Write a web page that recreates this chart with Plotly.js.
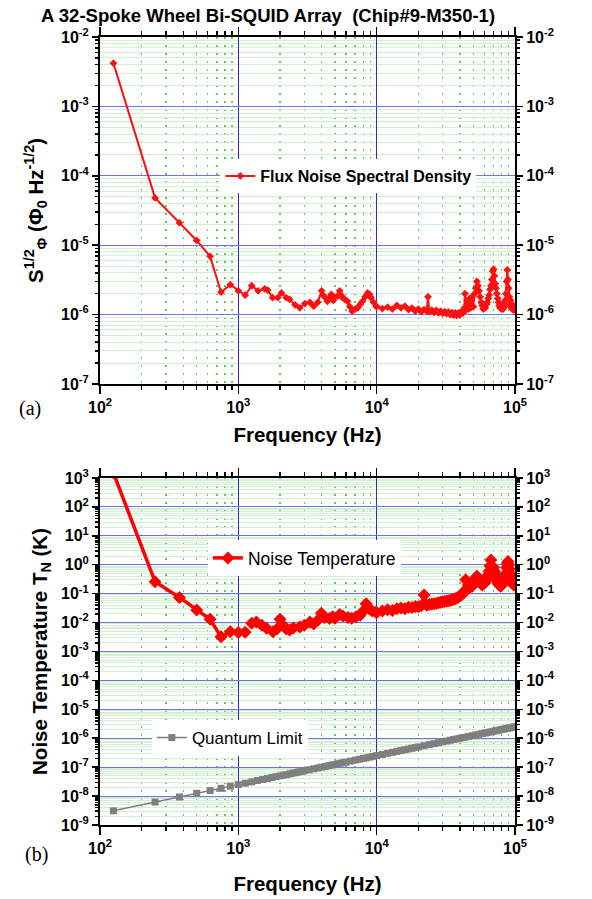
<!DOCTYPE html>
<html><head><meta charset="utf-8">
<script src="https://cdn.plot.ly/plotly-3.0.1.min.js"></script>
<style>body{margin:0;background:#fff}#chart{width:592px;height:899px}</style>
</head><body><div id="chart"></div>
<script>
// ---- Panel (a): flux noise spectral density ----
const fluxFreq = [125,250,375,500,625,750,875,1000,1120,1250,1390,1550,1630,1770,1930,2050,2220,2350,2570,2780,3030,3290,3500,3750,4000,4100,4200,4400,4550,4700,4850,4970,5200,5400,5550,5650,5900,6150,6400,6650,7000,7300,7600,7900,8250,8600,8900,9100,9500,9900,
10000,11000,12000,13000,14000,15000,16000,17000,18000,19000,20000,21000,22000,23000,23500,24000,25000,26000,27000,28000,29000,30000,31000,32000,33000,34000,35000,36000,37000,38000,39000,40000,41000,42000,43000,43500,44000,45000,46000,47000,48000,49000,50000,51000,52000,53000,54000,55000,56000,57000,58000,59000,60000,61000,62000,63000,64000,65000,66000,67000,68000,69000,70000,71000,72000,73000,74000,75000,76000,77000,78000,79000,80000,81000,82000,83000,84000,85000,86000,87000,88000,89000,90000,91000,92000,93000,94000,95000,96000,97000,98000,99000,100000];
const fluxNoise = [4.2e-3,4.8e-5,2.1e-5,1.17e-5,6.9e-6,2.1e-6,2.7e-6,2.2e-6,1.9e-6,2.6e-6,2.2e-6,2.35e-6,2.25e-6,1.75e-6,1.75e-6,2.05e-6,1.75e-6,1.65e-6,1.38e-6,1.25e-6,1.44e-6,1.5e-6,1.32e-6,1.5e-6,2.2e-6,1.9e-6,1.8e-6,1.55e-6,1.75e-6,1.95e-6,1.6e-6,1.75e-6,1.85e-6,2.2e-6,1.9e-6,1.75e-6,1.65e-6,1.55e-6,1.3e-6,1.12e-6,1.2e-6,1.25e-6,1.4e-6,1.55e-6,1.8e-6,2.05e-6,1.95e-6,1.75e-6,1.5e-6,1.32e-6,
1.30e-6,1.22e-6,1.28e-6,1.20e-6,1.35e-6,1.25e-6,1.32e-6,1.18e-6,1.24e-6,1.12e-6,1.20e-6,1.10e-6,1.18e-6,1.12e-6,1.80e-6,1.10e-6,1.16e-6,1.08e-6,1.15e-6,1.06e-6,1.12e-6,1.04e-6,1.10e-6,1.03e-6,1.09e-6,1.00e-6,1.07e-6,0.98e-6,1.06e-6,0.97e-6,1.05e-6,1.00e-6,1.10e-6,1.05e-6,1.25e-6,2.0e-6,1.15e-6,1.6e-6,1.2e-6,1.7e-6,1.25e-6,1.8e-6,1.3e-6,2.0e-6,2.4e-6,3.0e-6,2.6e-6,2.2e-6,1.8e-6,1.5e-6,1.35e-6,1.2e-6,1.3e-6,1.25e-6,1.4e-6,1.5e-6,1.7e-6,1.9e-6,2.3e-6,2.6e-6,3.2e-6,4.2e-6,4.5e-6,3.6e-6,2.8e-6,2.4e-6,2.0e-6,1.7e-6,1.5e-6,1.35e-6,1.25e-6,1.35e-6,1.2e-6,1.3e-6,1.2e-6,1.45e-6,1.3e-6,1.6e-6,2.0e-6,3.0e-6,4.4e-6,3.2e-6,2.4e-6,1.8e-6,1.4e-6,1.6e-6,1.25e-6,1.4e-6,1.2e-6,1.35e-6,1.15e-6,1.3e-6,1.25e-6];

// ---- Panel (b): noise temperature and quantum limit ----
const tempFreq = [125,250,375,500,625,750,875,1000,1120,1180,1250,1350,1480,1600,1780,1900,2000,2100,2220,2350,2500,2780,3000,3290,3500,3750,3980,4200,4560,4800,5000,5400,5700,6200,6600,7100,7600,8000,8400,8800,9300,9900,
10000,11000,12000,13000,14000,15000,16000,17000,18000,19000,20000,21000,22000,23000,24000,25000,26000,27000,28000,29000,30000,31000,32000,33000,34000,35000,36000,37000,38000,39000,40000,41000,42000,43000,44000,45000,46000,47000,48000,49000,50000,51000,52000,53000,54000,55000,56000,57000,58000,59000,60000,61000,62000,63000,64000,65000,66000,67000,68000,69000,70000,71000,72000,73000,74000,75000,76000,77000,78000,79000,80000,81000,82000,83000,84000,85000,86000,87000,88000,89000,90000,91000,92000,93000,94000,95000,96000,97000,98000,99000,100000];
const noiseTemp = [1500,0.26,0.074,0.027,0.013,3.2e-3,4.8e-3,4.5e-3,4.6e-3,null,9.5e-3,0.0105,8e-3,6.3e-3,4.8e-3,6e-3,0.013,8e-3,6e-3,5.5e-3,6.5e-3,7e-3,8e-3,0.0105,0.009,0.012,0.021,0.015,0.0138,0.016,0.014,0.019,0.017,0.015,0.014,0.016,0.018,0.025,0.045,0.03,0.025,0.023,
0.022,0.025,0.028,0.026,0.030,0.032,0.030,0.034,0.033,0.036,0.035,0.038,0.09,0.040,0.042,0.044,0.045,0.046,0.048,0.050,0.052,0.053,0.055,0.057,0.058,0.062,0.064,0.066,0.070,0.075,0.085,0.09,0.10,0.12,0.30,0.15,0.20,0.16,0.22,0.18,0.25,0.30,0.35,0.40,0.35,0.30,0.25,0.22,0.20,0.22,0.24,0.25,0.3,0.35,0.45,0.6,0.9,1.45,0.9,0.7,0.8,0.6,0.45,0.35,0.3,0.25,0.22,0.2,0.19,0.18,0.2,0.22,0.25,0.3,0.28,0.35,0.5,0.8,1.1,1.3,1.0,0.7,0.5,0.4,0.3,0.25,0.22,0.25,0.20,0.22,0.3];

const qlFreq = [125,250,375,500,625,750,875,1000,1125,1250,1375,1500,1625,1750,1875,2000,2125,2250,2375,2500,2625,2750,2875,3000,3250,3500,3750,4000,4250,4500,4750,5000,5250,5500,5750,6000,6500,7000,7500,8000,8500,9000,9500,10000,11000,12000,13000,14000,15000,16000,17000,18000,19000,20000,22000,24000,26000,28000,30000,32000,34000,36000,38000,40000,43000,46000,49000,52000,55000,58000,61000,64000,67000,70000,73000,76000,79000,82000,85000,88000,91000,94000,97000,100000];
const quantumLimit = [3.1e-9,6.2e-9,9.3e-9,1.25e-8,1.55e-8,1.85e-8,2.2e-8,2.5e-8,2.8e-8,3.1e-8,3.45e-8,3.75e-8,4.05e-8,4.4e-8,4.7e-8,5.0e-8,5.3e-8,5.6e-8,5.95e-8,6.25e-8,6.55e-8,6.9e-8,7.2e-8,7.5e-8,8.1e-8,8.75e-8,9.4e-8,1.0e-7,1.06e-7,1.12e-7,1.19e-7,1.25e-7,1.31e-7,1.37e-7,1.44e-7,1.5e-7,1.62e-7,1.75e-7,1.87e-7,2.0e-7,2.12e-7,2.25e-7,2.37e-7,2.5e-7,2.75e-7,3.0e-7,3.25e-7,3.5e-7,3.75e-7,4.0e-7,4.25e-7,4.5e-7,4.75e-7,5.0e-7,5.5e-7,6.0e-7,6.5e-7,7.0e-7,7.5e-7,8.0e-7,8.5e-7,9.0e-7,9.5e-7,1.0e-6,1.07e-6,1.15e-6,1.22e-6,1.3e-6,1.37e-6,1.45e-6,1.52e-6,1.6e-6,1.67e-6,1.75e-6,1.82e-6,1.9e-6,1.97e-6,2.05e-6,2.12e-6,2.2e-6,2.27e-6,2.35e-6,2.42e-6,2.5e-6];

// ---- Tick labels ----
const xTickVals = [1e2,1e3,1e4,1e5];
const xTickText = ['10<sup>2</sup>','10<sup>3</sup>','10<sup>4</sup>','10<sup>5</sup>'];
const fluxTickVals = [1e-7,1e-6,1e-5,1e-4,1e-3,1e-2];
const fluxTickText = ['10<sup>-7</sup>','10<sup>-6</sup>','10<sup>-5</sup>','10<sup>-4</sup>','10<sup>-3</sup>','10<sup>-2</sup>'];
const tempTickVals = [1e-9,1e-8,1e-7,1e-6,1e-5,1e-4,1e-3,1e-2,1e-1,1e0,1e1,1e2,1e3];
const tempTickText = ['10<sup>-9</sup>','10<sup>-8</sup>','10<sup>-7</sup>','10<sup>-6</sup>','10<sup>-5</sup>','10<sup>-4</sup>','10<sup>-3</sup>','10<sup>-2</sup>','10<sup>-1</sup>','10<sup>0</sup>','10<sup>1</sup>','10<sup>2</sup>','10<sup>3</sup>'];

function minorVals(lo, hi) {
  const out = [];
  for (let e = lo; e < hi; e++) for (let m = 2; m <= 9; m++) out.push(m * Math.pow(10, e));
  return out;
}

const FONT = 'Liberation Sans, Arial, sans-serif';
const tickFont = {family: FONT, size: 16, color: '#000', weight: 'bold'};
const titleFont = {family: FONT, size: 20.5, color: '#000', weight: 'bold'};

function xAxis(anchor, standoff) {
  return {
    type: 'log', range: [2, 5], anchor: anchor, domain: [0, 1],
    tickvals: xTickVals, ticktext: xTickText, tickfont: tickFont,
    ticks: 'outside', ticklen: 8, tickwidth: 1.5, tickcolor: '#000',
    showline: true, linewidth: 2, linecolor: '#000', mirror: 'ticks',
    showgrid: true, gridcolor: '#2c2cc8', gridwidth: 1.3, zeroline: false,
    minor: {tickvals: minorVals(2, 5), ticks: 'outside', ticklen: 4, tickcolor: '#000',
            showgrid: true, gridcolor: '#5ccc5c', griddash: '2px,6px', gridwidth: 1.5},
    title: {text: 'Frequency (Hz)', font: titleFont, standoff: standoff}
  };
}
function yAxis(anchor, domain, range, tv, tt, lo, hi, title, side, overlay, standoff) {
  const a = {
    type: 'log', range: range, anchor: anchor, domain: domain,
    tickvals: tv, ticktext: tt, tickfont: tickFont,
    ticks: 'outside', ticklen: 6, tickwidth: 1.5, tickcolor: '#000',
    showline: true, linewidth: 2, linecolor: '#000',
    zeroline: false, side: side
  };
  if (overlay) {
    a.overlaying = overlay; a.showgrid = false;
    a.minor = {tickvals: minorVals(lo, hi), ticks: 'outside', ticklen: 3, tickcolor: '#000', showgrid: false};
  } else {
    a.showgrid = true; a.gridcolor = '#7272e6'; a.gridwidth = 1;
    a.minor = {tickvals: minorVals(lo, hi), ticks: 'outside', ticklen: 3, tickcolor: '#000',
               showgrid: true, gridcolor: '#d0f0d0', gridwidth: 1};
    a.title = {text: title, font: titleFont, standoff: standoff};
  }
  return a;
}

const traces = [
  {x: fluxFreq, y: fluxNoise, xaxis: 'x', yaxis: 'y', type: 'scatter', mode: 'lines+markers',
   name: 'Flux Noise Spectral Density', legend: 'legend',
   line: {color: '#ff1010', width: 2}, marker: {symbol: 'diamond', size: 6, color: '#ff1010'}},
  {x: tempFreq, y: noiseTemp, xaxis: 'x2', yaxis: 'y2', type: 'scatter', mode: 'lines+markers',
   name: 'Noise Temperature', legend: 'legend2', connectgaps: false,
   line: {color: '#ff0000', width: 3.5}, marker: {symbol: 'diamond', size: 10, color: '#ff0000'}},
  {x: qlFreq, y: quantumLimit, xaxis: 'x2', yaxis: 'y2', type: 'scatter', mode: 'lines+markers',
   name: 'Quantum Limit', legend: 'legend3',
   line: {color: '#7f7f7f', width: 1.6}, marker: {symbol: 'square', size: 7, color: '#7f7f7f'}},
  // empty traces so the right-hand mirror axes get drawn
  {x: [], y: [], xaxis: 'x', yaxis: 'y3', type: 'scatter', mode: 'lines', showlegend: false, hoverinfo: 'skip'},
  {x: [], y: [], xaxis: 'x2', yaxis: 'y4', type: 'scatter', mode: 'lines', showlegend: false, hoverinfo: 'skip'}
];

const topDom = [0.5597, 1];
const botDom = [0, 0.4404];

const layout = {
  width: 592, height: 899,
  margin: {l: 100, r: 77, t: 37, b: 74},
  paper_bgcolor: '#fff', plot_bgcolor: '#fff',
  font: {family: FONT, color: '#000'},
  xaxis: xAxis('y', 12),
  xaxis2: xAxis('y2', 20),
  yaxis: yAxis('x', topDom, [-7, -2], fluxTickVals, fluxTickText, -7, -2,
               'S<sup>1/2</sup><sub>\u03A6</sub> (\u03A6<sub>0</sub> Hz<sup>-1/2</sup>)', 'left', null, 12),
  yaxis3: yAxis('x', topDom, [-7, -2], fluxTickVals, fluxTickText, -7, -2, '', 'right', 'y'),
  yaxis2: yAxis('x2', botDom, [-9, 3], tempTickVals, tempTickText, -9, 3,
               'Noise Temperature T<sub>N</sub> (K)', 'left', null, 8),
  yaxis4: yAxis('x2', botDom, [-9, 3], tempTickVals, tempTickText, -9, 3, '', 'right', 'y2'),
  showlegend: true,
  legend: {x: 0.29, y: 0.8236, xanchor: 'left', yanchor: 'middle', bgcolor: '#fff', borderwidth: 0,
           font: {family: FONT, size: 16, weight: 'bold'}},
  legend2: {x: 0.26, y: 0.3388, xanchor: 'left', yanchor: 'middle', bgcolor: '#fff', borderwidth: 0,
            font: {family: FONT, size: 17.5}},
  legend3: {x: 0.125, y: 0.1104, xanchor: 'left', yanchor: 'middle', bgcolor: '#fff', borderwidth: 0,
            font: {family: FONT, size: 17}},
  annotations: [
    {text: 'A 32-Spoke Wheel Bi-SQUID Array&nbsp;&nbsp;(Chip#9-M350-1)', xref: 'paper', yref: 'paper',
     x: 0.405, y: 1.027, xanchor: 'center', yanchor: 'middle', showarrow: false,
     font: {family: FONT, size: 18.5, weight: 'bold', color: '#000'}},
    {text: '(a)', xref: 'paper', yref: 'paper', x: -0.169, y: 0.529, xanchor: 'center', yanchor: 'middle',
     showarrow: false, font: {family: 'Liberation Serif, Times New Roman, serif', size: 20, color: '#000'}},
    {text: '(b)', xref: 'paper', yref: 'paper', x: -0.154, y: -0.038, xanchor: 'center', yanchor: 'middle',
     showarrow: false, font: {family: 'Liberation Serif, Times New Roman, serif', size: 20, color: '#000'}}
  ]
};

Plotly.newPlot('chart', traces, layout, {displayModeBar: false, staticPlot: true});
</script>
</body></html>
